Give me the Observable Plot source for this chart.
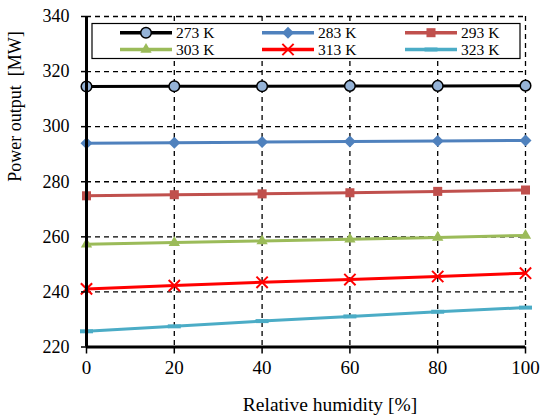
<!DOCTYPE html>
<html><head><meta charset="utf-8">
<script src="https://cdn.jsdelivr.net/npm/d3@7"></script>
<script src="https://cdn.jsdelivr.net/npm/@observablehq/plot@0.6"></script>
<style>
body{margin:0;background:#fff;}
#wrap{position:relative;width:540px;height:417px;font-family:"Liberation Serif","DejaVu Serif",serif;}
#legend{position:absolute;left:0;top:0;}
</style></head><body><div id="wrap"></div>
<script>
const humidity = [0, 20, 40, 60, 80, 100];
const seriesNames = ["273 K", "283 K", "293 K", "303 K", "313 K", "323 K"];
const p273 = [314.6, 314.7, 314.7, 314.8, 314.8, 314.9];
const p283 = [294.0, 294.2, 294.4, 294.6, 294.8, 295.0];
const p293 = [274.9, 275.3, 275.6, 276.0, 276.5, 277.0];
const p303 = [257.3, 257.9, 258.5, 259.1, 259.8, 260.5];
const p313 = [241.1, 242.3, 243.5, 244.5, 245.6, 246.8];
const p323 = [225.7, 227.5, 229.4, 231.1, 232.8, 234.3];
const yTicks = [220, 240, 260, 280, 300, 320, 340];
const xTicks = [0, 20, 40, 60, 80, 100];
const xLabel = "Relative humidity [%]";
const yLabel = "Power output\u00a0 [MW]";

const seriesValues = [p273, p283, p293, p303, p313, p323];
const lineColors = ["#000000", "#4f81bd", "#c0504d", "#9bbb59", "#ff0000", "#4bacc6"];
const dashSymbol = {draw(ctx) { ctx.moveTo(-6.5, -2); ctx.lineTo(6.5, -2); ctx.lineTo(6.5, 2); ctx.lineTo(-6.5, 2); ctx.closePath(); }};
const markerStyles = [
  {symbol: d3.symbolCircle, r: 5.3, fill: "#95b3d7", stroke: "#000", strokeWidth: 1.5},
  {symbol: d3.symbolDiamond2, r: 5.4, fill: "#4f81bd", stroke: "none"},
  {symbol: d3.symbolSquare, r: 5.1, fill: "#c0504d", stroke: "none"},
  {symbol: d3.symbolTriangle, r: 4.2, fill: "#9bbb59", stroke: "none"},
  {symbol: d3.symbolTimes, r: 5.2, fill: "none", stroke: "#ff0000", strokeWidth: 2},
  {symbol: dashSymbol, r: 5, fill: "#4bacc6", stroke: "none"}
];

const table = seriesNames.flatMap((s, i) => humidity.map((h, j) => ({series: s, h, p: seriesValues[i][j]})));
const FONT = "'Liberation Serif', 'DejaVu Serif', serif";

const marks = [
  Plot.gridY(yTicks, {stroke: "#000", strokeOpacity: 1, strokeWidth: 1.3, strokeDasharray: "5,4"}),
  Plot.gridX(xTicks, {stroke: "#000", strokeOpacity: 1, strokeWidth: 1.3, strokeDasharray: "5,4"}),
];
seriesNames.forEach((s, i) => {
  const d = table.filter(r => r.series === s);
  marks.push(Plot.line(d, {x: "h", y: "p", stroke: lineColors[i], strokeWidth: 3}));
  const m = markerStyles[i];
  marks.push(Plot.dot(d, {x: "h", y: "p", symbol: m.symbol, r: m.r, fill: m.fill, stroke: m.stroke, strokeWidth: m.strokeWidth || 1}));
});
marks.push(
  Plot.axisY(yTicks, {tickSize: 5, tickPadding: 12, fontSize: 18, fontFamily: FONT, label: null, stroke: "#000", strokeWidth: 1.5}),
  Plot.axisX(xTicks, {tickSize: 7, tickPadding: 6, fontSize: 19, fontFamily: FONT, label: null, stroke: "#000", strokeWidth: 1.5}),
  Plot.ruleX([0], {stroke: "#000", strokeWidth: 3}),
  Plot.ruleY([220], {stroke: "#000", strokeWidth: 3}),
  Plot.text([xLabel], {text: d => d, frameAnchor: "bottom", dx: 24, dy: 64, lineAnchor: "bottom", fontSize: 19.5, fontFamily: FONT, fill: "#000"}),
  Plot.text([yLabel], {text: d => d, frameAnchor: "left", rotate: -90, dx: -66, lineAnchor: "bottom", fontSize: 18, fontFamily: FONT, fill: "#000"})
);

const chart = Plot.plot({
  width: 540, height: 417,
  marginLeft: 86, marginRight: 15, marginTop: 16, marginBottom: 70.5,
  x: {domain: [0, 100], label: null},
  y: {domain: [220, 340], label: null},
  style: {fontFamily: FONT, color: "#000", background: "#fff", overflow: "visible"},
  marks
});
const wrap = document.getElementById("wrap");
wrap.appendChild(chart);

// Legend overlay
const lg = d3.select(wrap).append("svg").attr("id", "legend").attr("width", 540).attr("height", 417);
lg.append("rect").attr("x", 92).attr("y", 23.5).attr("width", 428).attr("height", 35)
  .attr("fill", "#fff").attr("stroke", "#000").attr("stroke-width", 1.2);
const colX = [120, 262, 405];
const rowY = [32.7, 49.5];
seriesNames.forEach((s, i) => {
  const cx = colX[i % 3], cy = rowY[Math.floor(i / 3)];
  const g = lg.append("g").attr("transform", `translate(${cx},${cy})`);
  g.append("line").attr("x1", 0).attr("x2", 52).attr("y1", 0).attr("y2", 0)
    .attr("stroke", lineColors[i]).attr("stroke-width", 3.5);
  const m = markerStyles[i];
  g.append("path").attr("transform", "translate(26,0)")
    .attr("d", d3.symbol(m.symbol, Math.PI * m.r * m.r)())
    .attr("fill", m.fill).attr("stroke", m.stroke).attr("stroke-width", m.strokeWidth || 1);
  g.append("text").attr("x", 56).attr("y", 5.5).style("font-family", FONT).attr("font-size", 15.5)
    .attr("fill", "#000").text(s);
});
</script>
</body></html>
